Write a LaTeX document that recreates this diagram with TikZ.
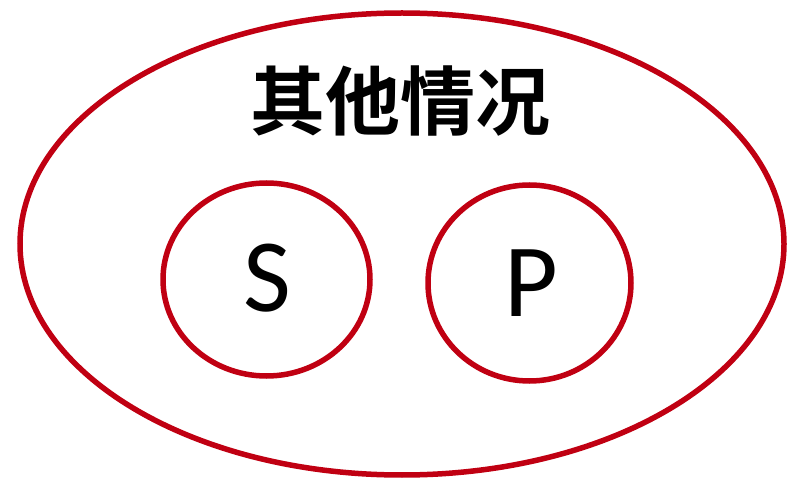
\documentclass[tikz,border=0pt]{standalone}
\usepackage{fontspec}
\setmainfont{Carlito}
\newfontfamily\cjk{Noto Sans CJK SC Bold}
\definecolor{ringred}{RGB}{192,0,18}
\begin{document}
\begin{tikzpicture}[x=1pt,y=-1pt,
  ring/.style={draw=ringred,line width=5.5pt},
  letter/.style={font=\fontsize{104}{104}\selectfont,inner sep=0pt}]
\useasboundingbox (0,0) rectangle (788,481);
\draw[ring] (402,244) ellipse [x radius=382,y radius=231];
\draw[ring] (266.5,279.5) ellipse [x radius=103.5,y radius=96.5];
\draw[ring] (529.5,283) ellipse [x radius=101.5,y radius=98];
\node[inner sep=0pt,font=\cjk\fontsize{75}{75}\selectfont] (title) at (400,101) {其他情况};
\node[letter] (s) at (267,278.5) {S};
\node[letter] (p) at (531,283) {P};
\end{tikzpicture}
\end{document}
